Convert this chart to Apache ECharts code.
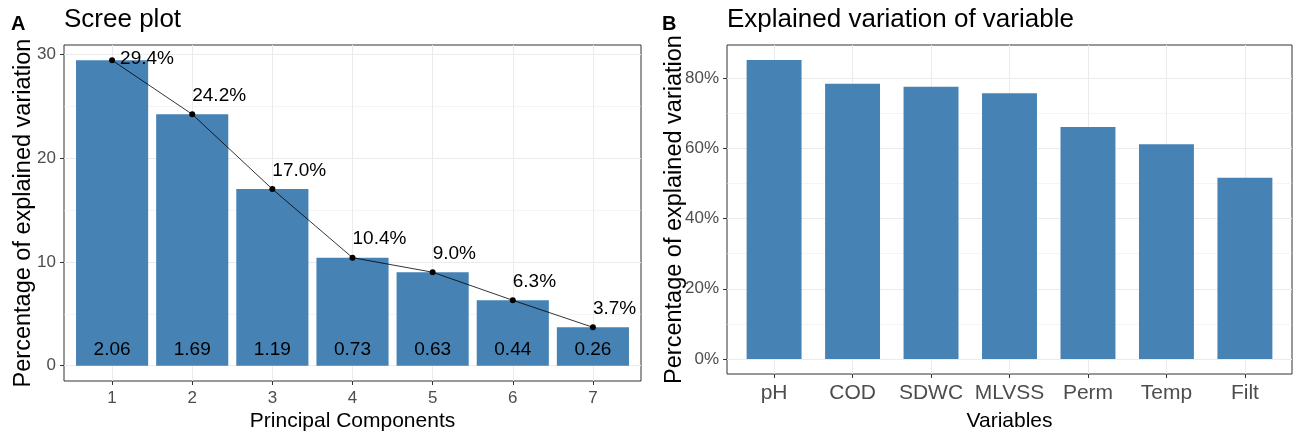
<!DOCTYPE html>
<html>
<head>
<meta charset="utf-8">
<script src="https://cdn.jsdelivr.net/npm/echarts@6/dist/echarts.min.js"></script>
<style>
html, body { margin: 0; padding: 0; background: #fff; }
#chart { width: 1296px; height: 437px; }
</style>
</head>
<body>
<div id="chart"></div>
<script>
// panel A - scree plot
var pcNames = ['1', '2', '3', '4', '5', '6', '7'];
var pcPercent = [29.4, 24.2, 17.0, 10.4, 9.0, 6.3, 3.7];
var pcEigen = ['2.06', '1.69', '1.19', '0.73', '0.63', '0.44', '0.26'];
var pcTicks = [0, 10, 20, 30];
var pcMinor = [5, 15, 25];

// panel B - explained variation of each variable
var varNames = ['pH', 'COD', 'SDWC', 'MLVSS', 'Perm', 'Temp', 'Filt'];
var varPercent = [85.1, 78.3, 77.5, 75.6, 66.0, 61.1, 51.6];
var varTicks = [0, 20, 40, 60, 80];
var varMinor = [10, 30, 50, 70];

var FONT = '"Liberation Sans", Arial, sans-serif';
var BAR = '#4682b4';
var GRID = '#ebebeb';

// ggplot style expansion: 5% on continuous, 0.6 on discrete
function expand(vals) {
    var mx = Math.max.apply(null, vals);
    return { min: -mx * 0.05, max: mx * 1.05 };
}
var pcPos = pcNames.map(function (n, i) { return i + 1; });
var varPos = varNames.map(function (n, i) { return i + 1; });
var pcRange = expand(pcPercent);
var varRange = expand(varPercent);

function xAxis(grid, pos, formatter, fontSize, name, nameGap, margin) {
    return {
        gridIndex: grid,
        type: 'value',
        min: 0.4,
        max: pos.length + 0.6,
        axisLine: { show: false, onZero: false },
        axisTick: { customValues: pos, length: 4, lineStyle: { color: '#333' } },
        axisLabel: { customValues: pos, formatter: formatter, color: '#4d4d4d', fontSize: fontSize, margin: margin, fontFamily: FONT },
        splitLine: { show: true, lineStyle: { color: GRID, width: 1 } },
        name: name,
        nameLocation: 'middle',
        nameGap: nameGap,
        nameMoveOverlap: false,
        nameTextStyle: { color: '#000', fontSize: 21, fontFamily: FONT }
    };
}
function yAxis(grid, range, ticks, formatter, name, nameGap) {
    return {
        gridIndex: grid,
        type: 'value',
        min: range.min,
        max: range.max,
        axisLine: { show: false, onZero: false },
        axisTick: { customValues: ticks, length: 4, lineStyle: { color: '#333' } },
        axisLabel: { customValues: ticks, formatter: formatter, color: '#4d4d4d', fontSize: 17, margin: 8, fontFamily: FONT },
        splitLine: { show: true, lineStyle: { color: GRID, width: 1 } },
        name: name,
        nameLocation: 'middle',
        nameGap: nameGap,
        nameMoveOverlap: false,
        nameTextStyle: { color: '#000', fontSize: 23.5, fontFamily: FONT }
    };
}
// second y axis only for the minor grid lines
function minorAxis(grid, range, ticks) {
    return {
        gridIndex: grid,
        type: 'value',
        position: 'left',
        min: range.min,
        max: range.max,
        axisLine: { show: false },
        axisTick: { show: false, customValues: ticks },
        axisLabel: { show: false, customValues: ticks },
        splitLine: { show: true, lineStyle: { color: GRID, width: 0.5 } }
    };
}

var chart = echarts.init(document.getElementById('chart'));
var option = {
    animation: false,
    backgroundColor: '#fff',
    textStyle: { fontFamily: FONT },
    title: [
        { text: 'A', left: 11, top: 14, padding: 0, textStyle: { fontSize: 20, fontWeight: 'bold', color: '#000', fontFamily: FONT } },
        { text: 'Scree plot', left: 64, top: 7, padding: 0, textStyle: { fontSize: 26, fontWeight: 'normal', color: '#000', fontFamily: FONT } },
        { text: 'B', left: 662, top: 14, padding: 0, textStyle: { fontSize: 20, fontWeight: 'bold', color: '#000', fontFamily: FONT } },
        { text: 'Explained variation of variable', left: 727, top: 7, padding: 0, textStyle: { fontSize: 26, fontWeight: 'normal', color: '#000', fontFamily: FONT } }
    ],
    grid: [
        { left: 64, right: 655, top: 45, bottom: 54, show: true, borderColor: '#333', borderWidth: 1, backgroundColor: '#fff' },
        { left: 727, right: 4, top: 45, bottom: 58.5, show: true, borderColor: '#333', borderWidth: 1, backgroundColor: '#fff' }
    ],
    xAxis: [
        xAxis(0, pcPos, function (v) { return pcNames[v - 1]; }, 17, 'Principal Components', 30, 9),
        xAxis(1, varPos, function (v) { return varNames[v - 1]; }, 21, 'Variables', 37, 9)
    ],
    yAxis: [
        yAxis(0, pcRange, pcTicks, function (v) { return v; }, 'Percentage of explained variation', 28),
        minorAxis(0, pcRange, pcMinor),
        yAxis(1, varRange, varTicks, function (v) { return v + '%'; }, 'Percentage of explained variation', 40),
        minorAxis(1, varRange, varMinor)
    ],
    series: [
        {
            type: 'bar',
            xAxisIndex: 0,
            yAxisIndex: 0,
            barWidth: '90%',
            itemStyle: { color: BAR },
            label: {
                show: true,
                position: 'insideBottom',
                distance: 6,
                color: '#000',
                fontSize: 19,
                formatter: function (p) { return pcEigen[p.dataIndex]; }
            },
            data: pcPercent.map(function (v, i) { return [pcPos[i], v]; })
        },
        {
            type: 'line',
            xAxisIndex: 0,
            yAxisIndex: 0,
            symbol: 'circle',
            symbolSize: 6,
            lineStyle: { color: '#000', width: 0.8 },
            itemStyle: { color: '#000' },
            label: {
                show: true,
                position: 'top',
                align: 'left',
                distance: 6,
                color: '#000',
                fontSize: 19,
                formatter: function (p) { return p.value[1].toFixed(1) + '%'; }
            },
            data: pcPercent.map(function (v, i) {
                var d = { value: [pcPos[i], v] };
                if (i === 0) d.label = { position: 'right', align: 'left', distance: 5, offset: [0, -2] };
                return d;
            }),
            z: 3
        },
        {
            type: 'bar',
            xAxisIndex: 1,
            yAxisIndex: 2,
            barWidth: '70%',
            itemStyle: { color: BAR },
            data: varPercent.map(function (v, i) { return [varPos[i], v]; })
        }
    ]
};
chart.setOption(option);
window.addEventListener('resize', function () {
    chart.resize();
});
</script>
</body>
</html>
